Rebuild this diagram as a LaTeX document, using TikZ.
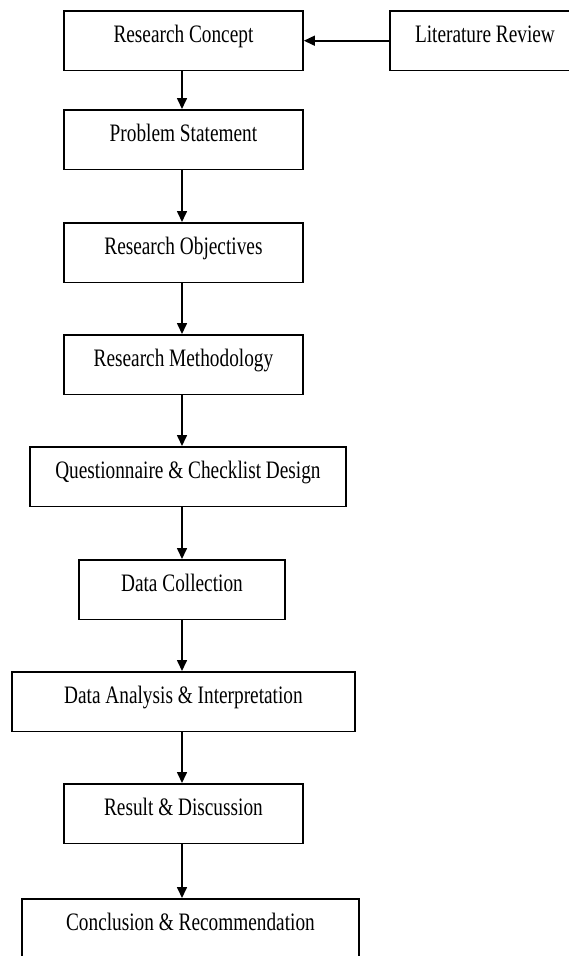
\documentclass[tikz,border=0pt]{standalone}
\usepackage{fontspec}
\setmainfont{Liberation Serif}
\usetikzlibrary{arrows.meta}
\newcommand{\vstr}[1]{\scalebox{1}[1.3]{#1}}
\begin{document}
\begin{tikzpicture}[x=1pt,y=-1pt,
  box/.style={draw, line width=1.9pt, inner xsep=0pt, inner ysep=0pt,
    text height=32pt, text depth=27.5pt, anchor=north west,
    font=\fontsize{19.3}{22}\selectfont},
  arr/.style={line width=1.6pt, -{Triangle[length=11pt,width=10pt]}}]
\useasboundingbox (0,0) rectangle (568,956);
\coordinate (ax) at (182,0);
\node[box, minimum width=239pt] (rc) at (63,10) {\vstr{Research Concept}};
\node[box, minimum width=190pt] (lr) at (389,10) {\vstr{Literature Review}};
\node[box, minimum width=239pt] (ps) at (63,109) {\vstr{Problem Statement}};
\node[box, minimum width=239pt] (ro) at (63,222) {\vstr{Research Objectives}};
\node[box, minimum width=239pt] (rm) at (63,334) {\vstr{Research Methodology}};
\node[box, minimum width=316pt] (qc) at (29,446) {\vstr{Questionnaire \& Checklist Design}};
\node[box, minimum width=206pt] (dc) at (78,559) {\vstr{Data Collection}};
\node[box, minimum width=343pt] (da) at (11,671) {\vstr{Data Analysis \& Interpretation}};
\node[box, minimum width=239pt] (rd) at (63,783) {\vstr{Result \& Discussion}};
\node[box, minimum width=337pt] (cr) at (21,898) {\vstr{Conclusion \& Recommendation}};
\draw[arr] (lr.west) -- (rc.east);
\draw[arr] (ax |- rc.south) -- (ax |- ps.north);
\draw[arr] (ax |- ps.south) -- (ax |- ro.north);
\draw[arr] (ax |- ro.south) -- (ax |- rm.north);
\draw[arr] (ax |- rm.south) -- (ax |- qc.north);
\draw[arr] (ax |- qc.south) -- (ax |- dc.north);
\draw[arr] (ax |- dc.south) -- (ax |- da.north);
\draw[arr] (ax |- da.south) -- (ax |- rd.north);
\draw[arr] (ax |- rd.south) -- (ax |- cr.north);
\end{tikzpicture}
\end{document}
